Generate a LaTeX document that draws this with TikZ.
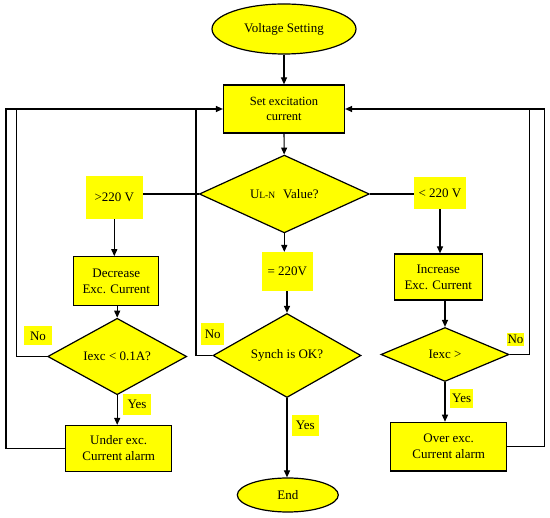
\documentclass[tikz,border=0pt]{standalone}
\usepackage{fontspec}
\setmainfont{Liberation Serif}
\usetikzlibrary{shapes.geometric,arrows.meta}
\definecolor{yel}{RGB}{255,255,0}
\begin{document}
\begin{tikzpicture}[x=1pt,y=-1pt,
  every node/.style={font=\fontsize{13}{16}\selectfont, inner sep=0pt, align=center},
  box/.style={rectangle, draw, fill=yel, line width=1.2pt},
  lab/.style={rectangle, fill=yel},
  dia/.style={diamond, draw, fill=yel, line width=1.2pt},
  term/.style={ellipse, draw, fill=yel, line width=1.2pt},
  conn/.style={line width=1.2pt},
  arr/.style={conn, -{Triangle[length=7pt,width=6pt]}}]
\useasboundingbox[fill=white] (0,0) rectangle (550,518);

\node[term, minimum width=144pt, minimum height=50pt] (start) at (284,29) {Voltage Setting};
\node[box, minimum width=121pt, minimum height=48pt, font=\fontsize{12.5}{14.7}\selectfont] (set) at (284,109) {Set excitation\\current};
\node[dia, minimum width=170pt, minimum height=75pt] (d1) at (284.3,194) {U{\fontsize{9.5}{9.5}\selectfont L-N}\hspace{8pt}Value?};

\node[lab, minimum width=57pt, minimum height=43pt] (gt) at (114.3,197.5) {>220 V};
\node[lab, minimum width=52pt, minimum height=32.6pt] (lt) at (440,193) {< 220 V};
\node[lab, minimum width=51pt, minimum height=38.7pt] (eq) at (287.3,271.5) {= 220V};

\node[box, minimum width=85pt, minimum height=49pt] (dec) at (116.3,281.3) {Decrease\\Exc. Current};
\node[box, minimum width=88pt, minimum height=46pt] (inc) at (438.3,277) {Increase\\Exc. Current};

\node[dia, minimum width=139pt, minimum height=55pt] (d2) at (117.2,356.5) {Iexc < 0.1A?};
\node[dia, minimum width=148pt, minimum height=55pt] (d3) at (287,355.5) {Synch is OK?};
\node[dia, minimum width=128pt, minimum height=54pt] (d4) at (445,354.5) {Iexc >};

\node[box, minimum width=106pt, minimum height=46pt] (under) at (118.7,448.5) {Under exc.\\Current alarm};
\node[box, minimum width=116pt, minimum height=48.7pt] (over) at (448.7,446.7) {Over exc.\\Current alarm};
\node[term, minimum width=101pt, minimum height=34pt] (end) at (287.8,495) {End};

\node[lab, minimum width=27.4pt, minimum height=19pt] (no1) at (38,336) {No};
\node[lab, minimum width=23.3pt, minimum height=21.4pt] (no2) at (212.7,334) {No};
\node[lab, minimum width=17.6pt, minimum height=13.3pt] (no3) at (515.5,339.7) {No};
\node[lab, minimum width=27.7pt, minimum height=20.7pt] (yes1) at (137,404.3) {Yes};
\node[lab, minimum width=27.3pt, minimum height=21.3pt] (yes2) at (305.3,425.7) {Yes};
\node[lab, minimum width=23.3pt, minimum height=19pt] (yes3) at (461.7,398.5) {Yes};

\coordinate (lo) at (6,0);
\coordinate (li) at (16.7,0);
\coordinate (lm) at (196,0);
\coordinate (ri) at (529.3,0);
\coordinate (ro) at (544.3,0);

\draw[arr] (start) -- (set);
\draw[arr] (set) -- (d1);
\draw[conn] (d1.west) -- (d1.west -| gt.east);
\draw[conn] (d1.east) -- (d1.east -| lt.west);
\draw[arr] (gt.south) -- (gt.south |- dec.north);
\draw[arr] (lt.south) -- (lt.south |- inc.north);
\draw[arr] (d1.south) -- (d1.south |- eq.north);
\draw[arr] (eq.south -| d3.north) -- (d3.north);
\draw[arr] (dec.south -| d2.north) -- (d2.north);
\draw[arr] (inc.south -| d4.north) -- (d4.north);
\draw[arr] (d2.south) -- (d2.south |- under.north);
\draw[arr] (d3.south) -- (d3.south |- end.north);
\draw[arr] (d4.south) -- (d4.south |- over.north);

\draw[arr] (under.west) -| (lo |- set.west) -- (set.west);
\draw[conn] (d2.west) -| (li |- set.west);
\draw[conn] (d3.west) -| (lm |- set.west);
\draw[arr] (over.east) -| (ro |- set.east) -- (set.east);
\draw[conn] (d4.east) -| (ri |- set.east);
\end{tikzpicture}
\end{document}
